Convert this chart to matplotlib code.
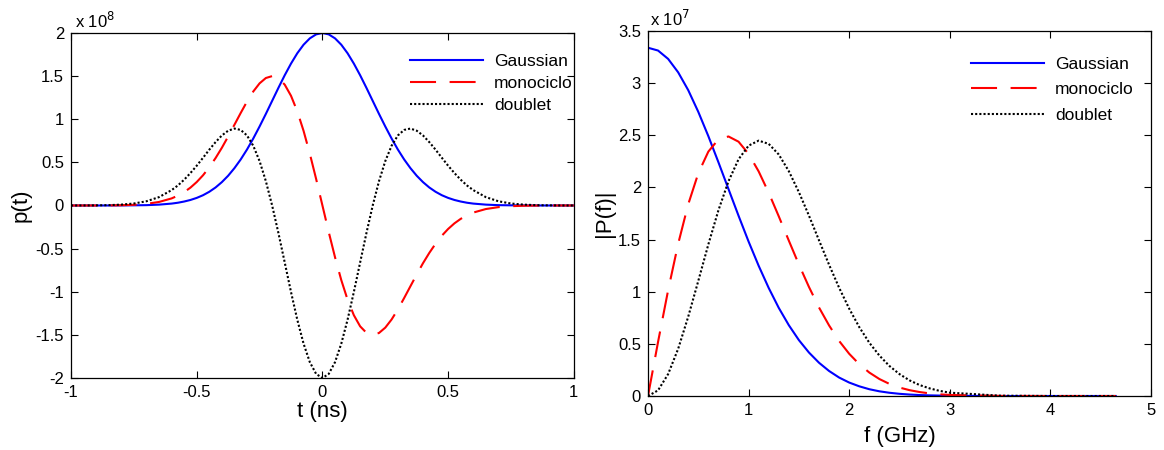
import matplotlib
matplotlib.use("Agg")
import matplotlib.pyplot as plt

plt.rcParams['font.family'] = ['Liberation Sans', 'DejaVu Sans']
plt.rcParams['axes.unicode_minus'] = False

# ---- pulso en el tiempo (x 1e8) ----
t_ns = [-1.0, -0.95, -0.9, -0.85, -0.8, -0.75, -0.7, -0.65,
        -0.6, -0.575, -0.55, -0.525, -0.5, -0.475, -0.45, -0.425, -0.4,
        -0.375, -0.35, -0.325, -0.3, -0.275, -0.25, -0.225, -0.2,
        -0.175, -0.15, -0.125, -0.1, -0.075, -0.05, -0.025, 0.0,
        0.025, 0.05, 0.075, 0.1, 0.125, 0.15, 0.175, 0.2,
        0.225, 0.25, 0.275, 0.3, 0.325, 0.35, 0.375, 0.4,
        0.425, 0.45, 0.475, 0.5, 0.525, 0.55, 0.575, 0.6,
        0.65, 0.7, 0.75, 0.8, 0.85, 0.9, 0.95, 1.0]
gauss_t = [0, 0, 0, 0, 0.001, 0.002, 0.004, 0.010,
           0.022, 0.032, 0.046, 0.064, 0.088, 0.119, 0.159, 0.209, 0.271,
           0.345, 0.433, 0.534, 0.649, 0.777, 0.916, 1.062, 1.213,
           1.364, 1.510, 1.645, 1.765, 1.864, 1.938, 1.984, 2.0,
           1.984, 1.938, 1.864, 1.765, 1.645, 1.510, 1.364, 1.213,
           1.062, 0.916, 0.777, 0.649, 0.534, 0.433, 0.345, 0.271,
           0.209, 0.159, 0.119, 0.088, 0.064, 0.046, 0.032, 0.022,
           0.010, 0.004, 0.002, 0.001, 0, 0, 0, 0]
mono_t = [0, 0, 0, 0.001, 0.003, 0.008, 0.019, 0.041,
          0.082, 0.114, 0.155, 0.207, 0.272, 0.350, 0.443, 0.550, 0.669,
          0.800, 0.936, 1.073, 1.205, 1.322, 1.416, 1.478, 1.500,
          1.476, 1.401, 1.272, 1.092, 0.865, 0.599, 0.307, 0.0,
          -0.307, -0.599, -0.865, -1.092, -1.272, -1.401, -1.476, -1.500,
          -1.478, -1.416, -1.322, -1.205, -1.073, -0.936, -0.800, -0.669,
          -0.550, -0.443, -0.350, -0.272, -0.207, -0.155, -0.114, -0.082,
          -0.041, -0.019, -0.008, -0.003, -0.001, 0, 0, 0]
doub_t = [0, 0.0005, 0.0015, 0.004, 0.010, 0.023, 0.049, 0.097,
          0.178, 0.232, 0.299, 0.376, 0.461, 0.553, 0.647, 0.735, 0.812,
          0.867, 0.892, 0.876, 0.812, 0.692, 0.515, 0.282, 0.0,
          -0.320, -0.660, -1.003, -1.324, -1.602, -1.817, -1.953, -2.0,
          -1.953, -1.817, -1.602, -1.324, -1.003, -0.660, -0.320, 0.0,
          0.282, 0.515, 0.692, 0.812, 0.876, 0.892, 0.867, 0.812,
          0.735, 0.647, 0.553, 0.461, 0.376, 0.299, 0.232, 0.178,
          0.097, 0.049, 0.023, 0.010, 0.004, 0.0015, 0.0005, 0]

# ---- espectro (x 1e7) ----
f_ghz = [0.0, 0.1, 0.2, 0.3, 0.4, 0.5, 0.6, 0.7, 0.8, 0.9, 1.0,
         1.1, 1.2, 1.3, 1.4, 1.5, 1.6, 1.7, 1.8, 1.9, 2.0,
         2.1, 2.2, 2.3, 2.4, 2.5, 2.6, 2.7, 2.8, 2.9, 3.0,
         3.5, 4.0, 4.65]
gauss_f = [3.34, 3.313, 3.233, 3.104, 2.933, 2.725, 2.492, 2.242, 1.985, 1.729, 1.481,
           1.249, 1.036, 0.845, 0.679, 0.536, 0.417, 0.319, 0.240, 0.177, 0.129,
           0.093, 0.065, 0.045, 0.031, 0.021, 0.014, 0.009, 0.006, 0.004, 0.002,
           0, 0, 0]
mono_f = [0, 0.519, 1.014, 1.460, 1.839, 2.136, 2.344, 2.461, 2.489, 2.439, 2.322,
          2.154, 1.949, 1.723, 1.490, 1.261, 1.046, 0.849, 0.677, 0.528, 0.405,
          0.305, 0.225, 0.163, 0.116, 0.081, 0.056, 0.038, 0.025, 0.016, 0.010,
          0.001, 0, 0]
doub_f = [0, 0.054, 0.210, 0.453, 0.761, 1.104, 1.454, 1.781, 2.059, 2.270, 2.401,
          2.449, 2.418, 2.316, 2.156, 1.955, 1.730, 1.493, 1.259, 1.038, 0.838,
          0.661, 0.511, 0.388, 0.288, 0.210, 0.150, 0.105, 0.073, 0.049, 0.032,
          0.003, 0, 0]

labels = ["Gaussian", "monociclo", "doublet"]

fig = plt.figure(figsize=(11.64, 4.5), dpi=100)
ax1 = fig.add_axes([0.061, 0.16, 0.432, 0.7667])
ax2 = fig.add_axes([0.5567, 0.12, 0.4321, 0.811])

LW = 1.5
DASH = (12.5, 6.5)
DOT = (1.0, 1.0)


def estilo(ax):
    ax.tick_params(direction='in', top=True, right=True, length=5,
                   labelsize=12, width=0.8, pad=5)
    for s in ax.spines.values():
        s.set_linewidth(0.9)


ax1.plot(t_ns, gauss_t, color='blue', lw=LW, label=labels[0])
ax1.plot(t_ns, mono_t, color='red', lw=LW, dashes=DASH, label=labels[1])
ax1.plot(t_ns, doub_t, color='black', lw=LW, dashes=DOT, label=labels[2])
ax1.set_xlim(-1, 1)
ax1.set_ylim(-2, 2)
ax1.set_xticks([-1, -0.5, 0, 0.5, 1])
ax1.set_xticklabels(["-1", "-0.5", "0", "0.5", "1"])
ax1.set_yticks([-2, -1.5, -1, -0.5, 0, 0.5, 1, 1.5, 2])
ax1.set_yticklabels(["-2", "-1.5", "-1", "-0.5", "0", "0.5", "1", "1.5", "2"])
ax1.set_xlabel("t (ns)", fontsize=16, labelpad=1)
ax1.set_ylabel("p(t)", fontsize=16, labelpad=3)
ax1.text(0.008, 1.005, r"x 10$^{8}$", transform=ax1.transAxes, fontsize=12, va='bottom')
estilo(ax1)
ax1.legend(loc='upper right', bbox_to_anchor=(0.998, 0.94), frameon=False,
           fontsize=12.5, handlelength=4.2, borderaxespad=0, borderpad=0,
           labelspacing=0.4, handletextpad=0.63)

ax2.plot(f_ghz, gauss_f, color='blue', lw=LW, label=labels[0])
ax2.plot(f_ghz, mono_f, color='red', lw=LW, dashes=DASH, label=labels[1])
ax2.plot(f_ghz, doub_f, color='black', lw=LW, dashes=DOT, label=labels[2])
ax2.set_xlim(0, 5)
ax2.set_ylim(0, 3.5)
ax2.set_xticks([0, 1, 2, 3, 4, 5])
ax2.set_yticks([0, 0.5, 1, 1.5, 2, 2.5, 3, 3.5])
ax2.set_yticklabels(["0", "0.5", "1", "1.5", "2", "2.5", "3", "3.5"])
ax2.set_xlabel("f (GHz)", fontsize=16, labelpad=6)
ax2.set_ylabel("|P(f)|", fontsize=16, labelpad=2)
ax2.text(0.004, 1.005, r"x 10$^{7}$", transform=ax2.transAxes, fontsize=12, va='bottom')
estilo(ax2)
ax2.legend(loc='upper right', bbox_to_anchor=(0.966, 0.93), frameon=False,
           fontsize=12.5, handlelength=4.2, borderaxespad=0, borderpad=0,
           labelspacing=0.6, handletextpad=0.63)

fig.savefig("out.png", dpi=100)
